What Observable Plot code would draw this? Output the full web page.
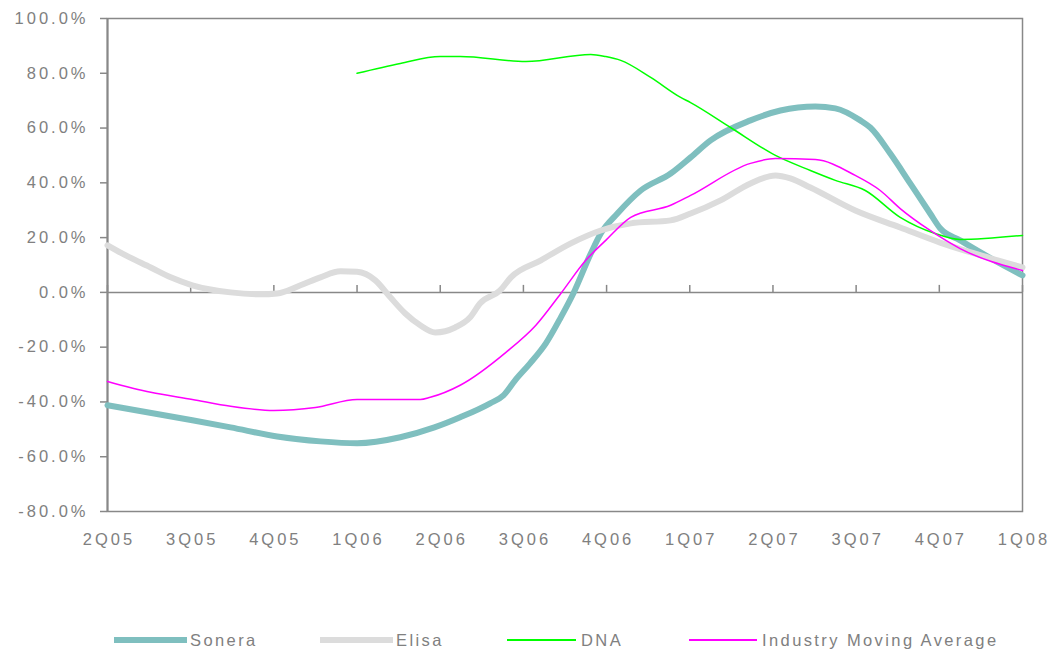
<!DOCTYPE html>
<html><head><meta charset="utf-8">
<script src="https://cdn.jsdelivr.net/npm/d3@7"></script>
<script src="https://cdn.jsdelivr.net/npm/@observablehq/plot@0.6"></script>
<style>
body{margin:0;background:#fff;font-family:Arial,"Liberation Sans",sans-serif;}
#chart{position:relative;width:1064px;height:653px;overflow:hidden;}
.legend{position:absolute;top:610px;left:0;width:1064px;height:43px;}
.item{position:absolute;top:0;height:60px;display:flex;align-items:center;font-size:16.5px;letter-spacing:2.4px;color:#808080;white-space:nowrap;}
.sw{display:inline-block;margin-right:3px;}
</style></head><body><div id="chart"></div>
<script>
// Quarter labels (x index 0..11)
const quarterLabels = ["2Q05","3Q05","4Q05","1Q06","2Q06","3Q06","4Q06","1Q07","2Q07","3Q07","4Q07","1Q08"];
const yTicks = [-80,-60,-40,-20,0,20,40,60,80,100];

// [quarter position, % value]
const sonera = [[0,-41.2],[1.02,-46.7],[1.48,-49.3],[2.04,-52.6],[2.56,-54.4],[3.0,-55.1],[3.52,-52.9],[3.93,-49.3],[4.24,-45.6],[4.6,-40.5],[4.76,-37.6],[4.9,-32.1],[5.08,-25.9],[5.27,-18.6],[5.45,-9.1],[5.6,-0.4],[5.81,14.2],[5.93,21.5],[6.13,28.8],[6.41,37.2],[6.77,43.4],[7.01,49.3],[7.25,55.5],[7.73,62.8],[8.09,66.4],[8.51,67.9],[8.75,67.2],[9.05,62.8],[9.17,60.2],[9.41,50.7],[9.65,39.8],[9.89,28.8],[10.01,23.4],[10.25,19],[10.62,12.4],[11,6.2]];
const elisa = [[0,17.2],[0.22,13.5],[0.52,9.1],[0.76,5.5],[1.02,2.6],[1.48,0],[1.84,-0.7],[2.04,-0.4],[2.32,2.6],[2.56,5.5],[2.8,7.7],[3.0,7.5],[3.22,4.4],[3.4,-1.8],[3.58,-7.7],[3.76,-12],[3.94,-14.6],[4.18,-12.8],[4.36,-9.1],[4.48,-4],[4.72,0.7],[4.85,5.5],[5.21,11.7],[5.57,17.9],[5.93,22.6],[6.29,25.2],[6.77,26.3],[7.01,28.8],[7.37,33.6],[7.73,39.8],[8.03,42.7],[8.21,41.6],[8.45,38.3],[8.99,29.9],[9.53,23.7],[10.01,18.2],[10.5,13.5],[11,9.1]];
const dna = [[3.0,80],[3.52,83.6],[4.0,86.1],[4.24,86.1],[5.03,84.3],[5.81,86.9],[5.99,86.1],[6.17,84.7],[6.53,78.5],[6.89,71.2],[7.01,69.3],[7.49,60.2],[8.03,50],[8.45,44.5],[8.75,40.9],[9.11,37.2],[9.53,27.4],[9.95,21.5],[10.25,19.3],[11,20.8]];
const industryAvg = [[0,-32.5],[0.52,-36.5],[1.02,-39.1],[1.48,-41.6],[2.0,-43.1],[2.5,-42],[3.0,-39.1],[3.76,-39.1],[3.88,-38.3],[4.24,-33.9],[4.79,-21.9],[5.15,-12],[5.45,-0.4],[5.75,11.7],[5.99,19],[6.29,27.4],[6.77,31.8],[7.01,35.4],[7.73,47.1],[8.03,48.9],[8.51,48.5],[8.99,42.7],[9.29,37.2],[9.53,30.6],[9.89,22.6],[10.25,16],[11,8]];

const seriesNames = ["Sonera","Elisa","DNA","Industry Moving Average"];
const seriesData = [sonera, elisa, dna, industryAvg];
const seriesColors = ["#7fbfbf","#dcdcdc","#00ff00","#ff00ff"];
const seriesWidths = [6,6,1.5,1.5];

const rows = [];
seriesData.forEach((arr,k)=>arr.forEach(([q,v])=>rows.push({series:seriesNames[k], q, v})));
const quarters = d3.range(quarterLabels.length);
const axisGray = "#888888";

const plot = Plot.plot({
  width:1064, height:610,
  marginLeft:107, marginRight:42, marginTop:18, marginBottom:99,
  x:{domain:[0,11]},
  y:{domain:[-80,100]},
  style:{fontFamily:"Arial, 'Liberation Sans', sans-serif", fontSize:"16.5px", color:"#808080", letterSpacing:"3px", background:"#fff"},
  marks:[
    Plot.frame({stroke:axisGray, strokeWidth:1.5}),
    Plot.ruleX([0], {stroke:axisGray, strokeWidth:2}),
    Plot.ruleY([0], {stroke:axisGray, strokeWidth:1.5}),
    Plot.ruleX(quarters, {x:d=>d, y1:0, y2:0, insetBottom:7, stroke:axisGray, strokeWidth:1.5}),
    Plot.axisY({ticks:yTicks, tickSize:7, tickPadding:12, stroke:axisGray, strokeWidth:1.5, strokeOpacity:1, tickFormat:d=>d.toFixed(1)+"%", fill:"#808080", fontSize:16.5, label:null}),
    Plot.axisX({ticks:quarters, tickSize:0, tickPadding:22, tickFormat:i=>quarterLabels[i], fill:"#808080", fontSize:16.5, dx:1.5, label:null}),
    ...seriesNames.map((name,k)=>Plot.line(rows.filter(r=>r.series===name), {x:"q", y:"v", stroke:seriesColors[k], strokeWidth:seriesWidths[k], curve:"monotone-x", strokeLinejoin:"round"}))
  ]
});
const chart = document.getElementById("chart");
chart.appendChild(plot);

// Legend
const legendLefts = [114,320,507,689];
const swatchWidths = [73,73,69,68];
const legend = document.createElement("div");
legend.className = "legend";
seriesNames.forEach((name,k)=>{
  const it = document.createElement("div");
  it.className = "item";
  it.style.left = legendLefts[k]+"px";
  const sw = document.createElement("span");
  sw.className = "sw";
  sw.style.width = swatchWidths[k]+"px";
  sw.style.height = (seriesWidths[k]>3?6:2)+"px";
  sw.style.background = seriesColors[k];
  if (k>=2) sw.style.marginRight = "5px";
  it.appendChild(sw);
  const t = document.createElement("span");
  t.textContent = name;
  it.appendChild(t);
  legend.appendChild(it);
});
chart.appendChild(legend);
</script></body></html>
